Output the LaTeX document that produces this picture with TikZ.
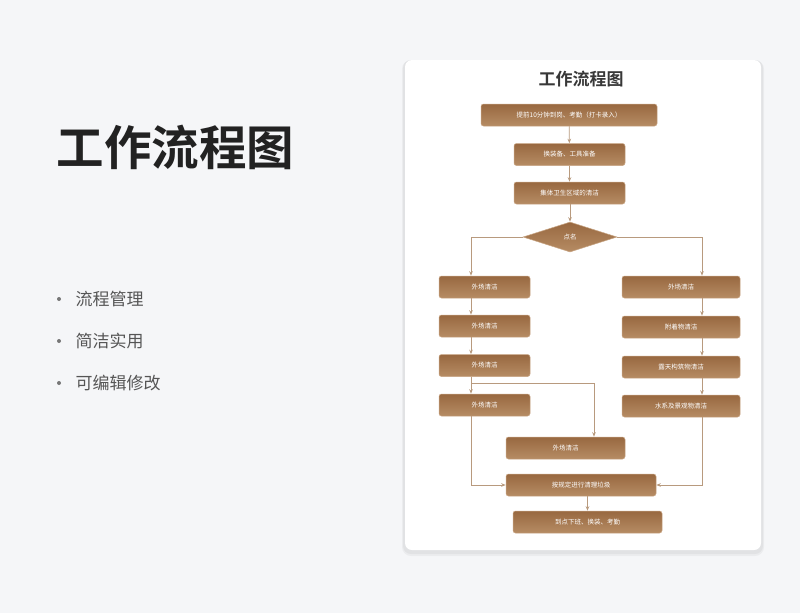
\documentclass[tikz,border=0pt]{standalone}
\usepackage{fontspec}
\setmainfont{Noto Sans CJK SC}[BoldFont={Noto Sans CJK SC Bold}]
\usetikzlibrary{shapes.geometric,arrows.meta,shadows,calc}
\definecolor{bg}{HTML}{F5F6F8}
\definecolor{boxtop}{HTML}{986840}
\definecolor{boxbot}{HTML}{B68C64}
\definecolor{boxedge}{HTML}{C8A584}
\definecolor{lineclr}{HTML}{B89A7E}
\definecolor{titleclr}{HTML}{222222}
\definecolor{cardtitle}{HTML}{383838}
\definecolor{bulletclr}{HTML}{555555}
\tikzset{
  stepbox/.style={rectangle, rounded corners=2.5pt, top color=boxtop, bottom color=boxbot,
    draw=boxedge, line width=0.5pt, text=white, font=\fontsize{6.5}{7}\selectfont,
    minimum height=22pt, inner sep=0pt, anchor=center},
  decide/.style={diamond, top color=boxtop, bottom color=boxbot, draw=boxedge, line width=0.5pt,
    text=white, font=\fontsize{6.5}{7}\selectfont, minimum width=94pt, minimum height=30pt,
    inner sep=0pt, aspect=3.13},
  flow/.style={draw=lineclr, line width=0.8pt, -{Stealth[length=4.5pt,width=3.5pt]}},
  bullettext/.style={anchor=west, text=bulletclr, font=\fontsize{17}{20}\selectfont},
  bulletdot/.style={circle, fill=bulletclr!80, inner sep=0pt, minimum size=4pt}
}
\begin{document}
\begin{tikzpicture}[x=1pt,y=-1pt]
\useasboundingbox (0,0) rectangle (800,613);
\fill[bg] (0,0) rectangle (800,613);
% card
\fill[black, opacity=0.04, rounded corners=9pt] (402,60) rectangle (764,556);
\fill[black, opacity=0.04, rounded corners=8pt] (403,60) rectangle (763,554);
\fill[white, rounded corners=7pt] (405,60) rectangle (761,550);
% left titles
\node[anchor=west, text=titleclr, font=\bfseries\fontsize{47.5}{52}\selectfont] (maintitle) at (53,147) {工作流程图};
\node[bulletdot] (b1) at (59,299) {};
\node[bullettext] (t1) at (72,299) {流程管理};
\node[bulletdot] (b2) at (59,341) {};
\node[bullettext] (t2) at (72,341) {简洁实用};
\node[bulletdot] (b3) at (59,383) {};
\node[bullettext] (t3) at (72,383) {可编辑修改};
% card title
\node[text=cardtitle, font=\bfseries\fontsize{17}{20}\selectfont] (ctitle) at (581,79) {工作流程图};
% nodes
\node[stepbox, minimum width=176pt] (n1) at (569,115) {提前10分钟到岗、考勤（打卡录入）};
\node[stepbox, minimum width=111pt] (n2) at (569.5,154.5) {换装备、工具准备};
\node[stepbox, minimum width=111pt] (n3) at (569.5,193) {集体卫生区域的清洁};
\node[decide] (d) at (570,237) {点名};
\node[stepbox, minimum width=91pt] (l1) at (484.5,287) {外场清洁};
\node[stepbox, minimum width=91pt] (l2) at (484.5,326) {外场清洁};
\node[stepbox, minimum width=91pt] (l3) at (484.5,365.5) {外场清洁};
\node[stepbox, minimum width=91pt] (l4) at (484.5,405) {外场清洁};
\node[stepbox, minimum width=118pt] (r1) at (681,287) {外场清洁};
\node[stepbox, minimum width=118pt] (r2) at (681,327) {附着物清洁};
\node[stepbox, minimum width=118pt] (r3) at (681,367) {露天构筑物清洁};
\node[stepbox, minimum width=118pt] (r4) at (681,406) {水系及景观物清洁};
\node[stepbox, minimum width=119pt] (m) at (565.5,448) {外场清洁};
\node[stepbox, minimum width=150pt] (nn) at (581,485) {按规定进行清理垃圾};
\node[stepbox, minimum width=149pt] (o) at (587.5,522) {到点下班、换装、考勤};
% connectors
\draw[flow] (n1) -- (n2);
\draw[flow] (n2) -- (n3);
\draw[flow] (n3.south -| d.north) -- (d.north);
\coordinate (lx1) at ([xshift=-13.5pt]l1.north);
\coordinate (rx1) at ([xshift=21pt]r1.north);
\draw[flow] (d.west) -| (lx1);
\draw[flow] (d.east) -| (rx1);
\draw[flow] ([xshift=-13.5pt]l1.south) -- ([xshift=-13.5pt]l2.north);
\draw[flow] ([xshift=-13.5pt]l2.south) -- ([xshift=-13.5pt]l3.north);
\draw[flow] ([xshift=-13.5pt]l3.south) -- ([xshift=-13.5pt]l4.north);
\coordinate (jn) at (471,383);
\coordinate (mx) at ([xshift=28.5pt]m.north);
\draw[flow] (jn) -| (mx);
\draw[flow] ([xshift=-13.5pt]l4.south) |- (nn.west);
\draw[flow] ([xshift=21pt]r1.south) -- ([xshift=21pt]r2.north);
\draw[flow] ([xshift=21pt]r2.south) -- ([xshift=21pt]r3.north);
\draw[flow] ([xshift=21pt]r3.south) -- ([xshift=21pt]r4.north);
\draw[flow] ([xshift=21pt]r4.south) |- (nn.east);
\draw[flow] (o.north |- nn.south) -- (o.north);
\end{tikzpicture}
\end{document}
